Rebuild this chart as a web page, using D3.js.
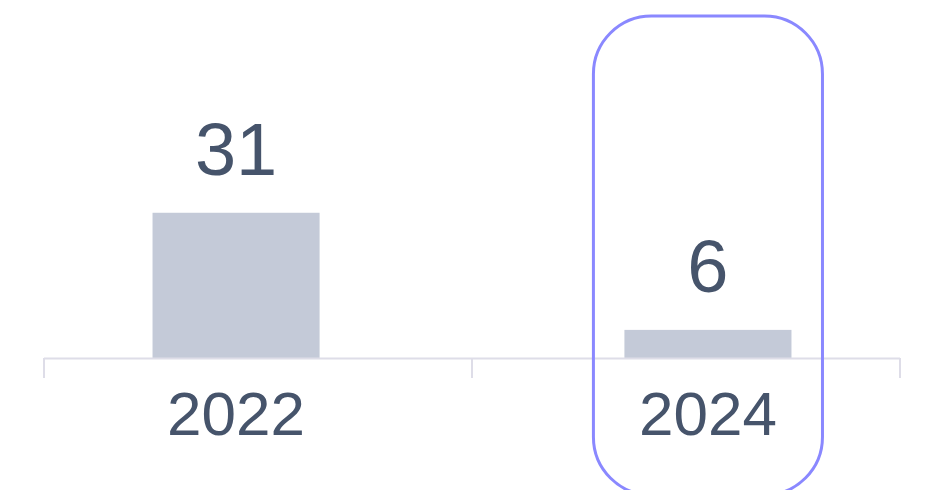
<!DOCTYPE html>
<html>
<head>
<meta charset="utf-8" />
<title>Bars</title>
<style>
  body { margin: 0; background: #fff; }
  text { font-family: "Liberation Sans", Arial, sans-serif; fill: #46546b; }
</style>
</head>
<body>
<div id="chart"></div>
<script src="https://d3js.org/d3.v7.min.js"></script>
<script>
const years = ['2022', '2024'];
const counts = [31, 6];
const highlightYear = '2024';

const width = 932;
const height = 490;
const baseY = 358;

const svg = d3.select('#chart')
    .append('svg')
    .attr('width', width)
    .attr('height', height);

const x = d3.scaleBand()
    .domain(years)
    .range([44, 900])
    .paddingInner(0.646)
    .paddingOuter(0.23);

const y = d3.scaleLinear()
    .domain([0, 73])
    .range([baseY, 16]);

// bars
svg.selectAll('rect.bar')
    .data(years)
    .enter()
    .append('rect')
    .attr('class', 'bar')
    .attr('x', d => x(d))
    .attr('y', (d, i) => y(counts[i]))
    .attr('width', x.bandwidth())
    .attr('height', (d, i) => baseY - y(counts[i]))
    .attr('fill', '#c4cad8');

// axis line + ticks
const [x0, x1] = x.range();
svg.append('line')
    .attr('x1', x0).attr('x2', x1)
    .attr('y1', baseY + 0.5).attr('y2', baseY + 0.5)
    .attr('stroke', '#dedde8')
    .attr('stroke-width', 2);

svg.selectAll('line.tick')
    .data([x0, (x0 + x1) / 2, x1])
    .enter()
    .append('line')
    .attr('class', 'tick')
    .attr('x1', d => d).attr('x2', d => d)
    .attr('y1', baseY).attr('y2', baseY + 20)
    .attr('stroke', '#dedde8')
    .attr('stroke-width', 2);

// value labels
svg.selectAll('text.value')
    .data(years)
    .enter()
    .append('text')
    .attr('class', 'value')
    .attr('x', d => x(d) + x.bandwidth() / 2)
    .attr('y', (d, i) => y(counts[i]) - 38)
    .attr('text-anchor', 'middle')
    .style('font-size', '74px')
    .text((d, i) => counts[i]);

// year labels
svg.selectAll('text.year')
    .data(years)
    .enter()
    .append('text')
    .attr('class', 'year')
    .attr('x', d => x(d) + x.bandwidth() / 2)
    .attr('y', 435)
    .attr('text-anchor', 'middle')
    .style('font-size', '62px')
    .text(d => d);

// highlight frame
const hx = x(highlightYear) - 31;
svg.append('rect')
    .attr('x', hx)
    .attr('y', 16)
    .attr('width', x.bandwidth() + 62)
    .attr('height', 479)
    .attr('rx', 58)
    .attr('ry', 58)
    .attr('fill', 'none')
    .attr('stroke', '#8a88ff')
    .attr('stroke-width', 3);
</script>
</body>
</html>
